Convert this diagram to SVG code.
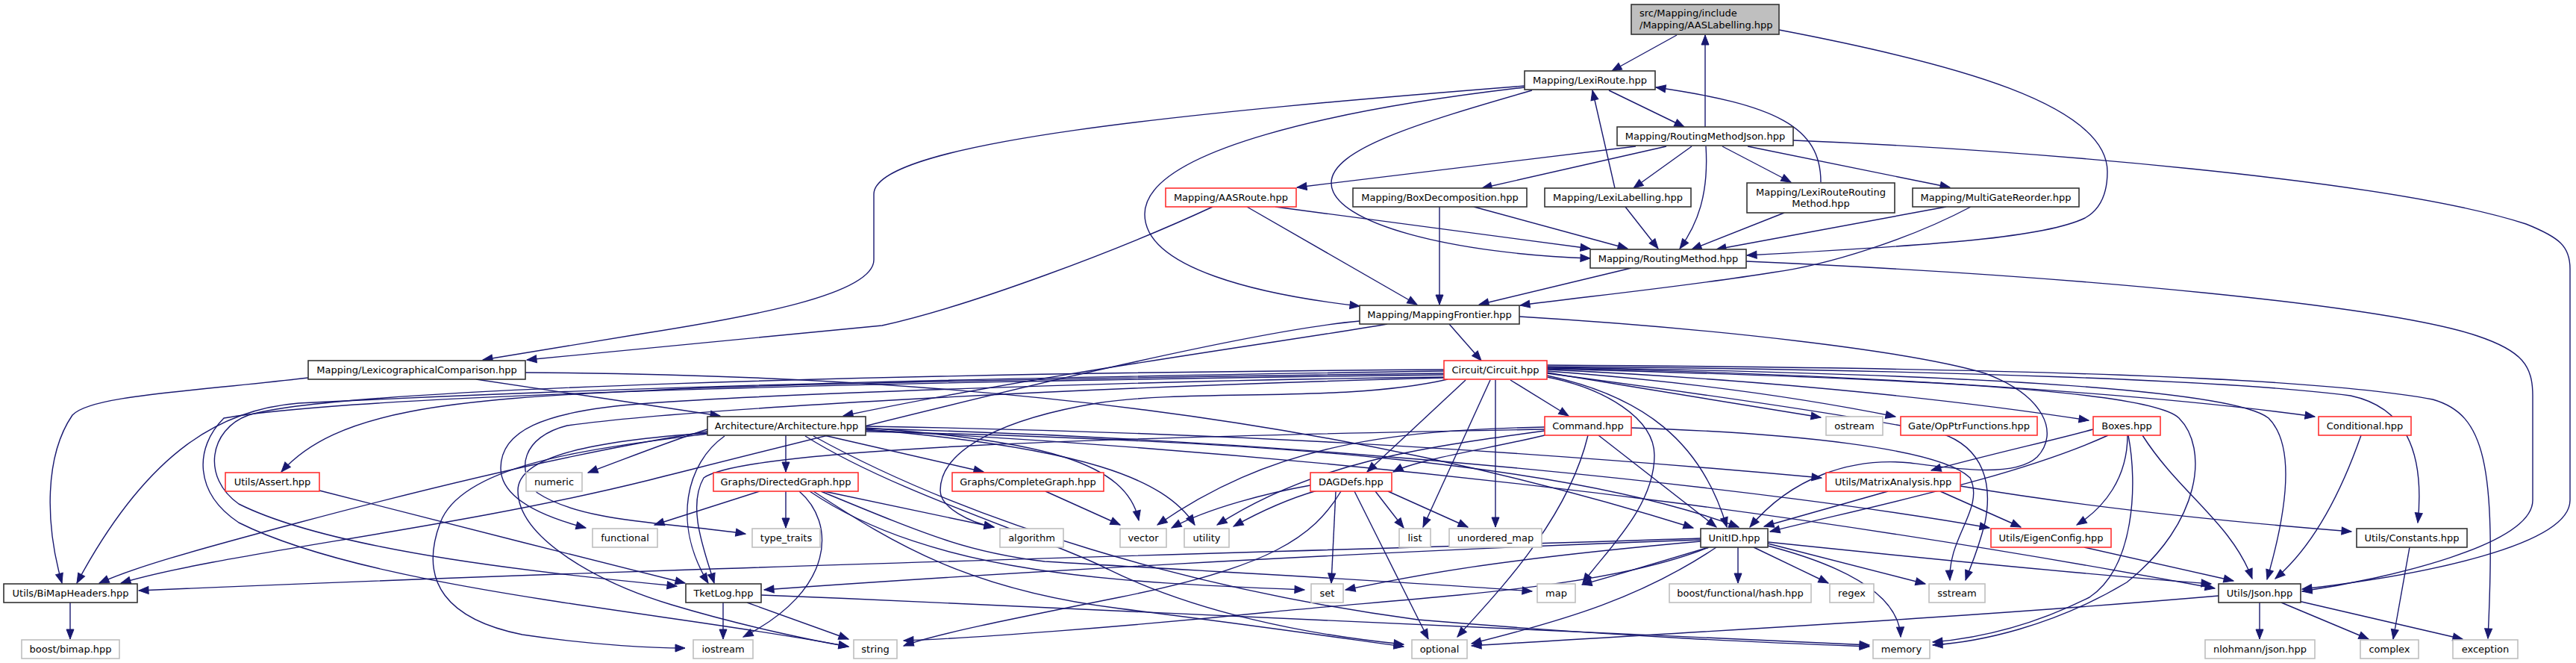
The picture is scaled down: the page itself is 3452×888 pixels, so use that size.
<svg xmlns="http://www.w3.org/2000/svg" width="3452" height="888" viewBox="0 0 3452 888">
<style>
text{font-family:"DejaVu Sans","Liberation Sans",Arial,sans-serif;font-size:13px;fill:#000;text-anchor:middle}
.b rect{fill:#fff;stroke:#333;stroke-width:1.6}
.r rect{fill:#fff;stroke:#ff3030;stroke-width:1.6}
.g rect{fill:#fff;stroke:#bfbfbf;stroke-width:1.6}
#edges path{fill:none;stroke:#191970;stroke-width:1.4;marker-end:url(#a)}
</style>
<defs>
<marker id="a" markerUnits="userSpaceOnUse" markerWidth="15" markerHeight="12" refX="13" refY="5.5" orient="auto" overflow="visible"><path d="M0,0.5 L13,5.5 L0,10.5 Z" fill="#191970" stroke="#191970" stroke-width="1"/></marker>
</defs>
<rect width="3452" height="888" fill="#fff"/>
<g id="edges">
<path d="M2247,47 L2160,95"/>
<path d="M2285,170 L2285,47"/>
<path d="M2384,40 C2620,85 2824,140 2824,230 C2824,262 2812,282 2794,292 C2740,318 2600,328 2341,342"/>
<path d="M2156,121 L2257,170"/>
<path d="M2053,121 C1900,165 1784,200 1784,245 C1784,300 1950,340 2131,346"/>
<path d="M2043,115 C1600,150 1171,190 1171,260 L1171,348 C1171,395 1000,425 860,447 L647,482"/>
<path d="M2043,117 C1800,145 1534,200 1534,287 C1534,360 1690,395 1822,410"/>
<path d="M1625,277 C1500,335 1300,410 1182,436 L706,482"/>
<path d="M1671,277 L1899,408"/>
<path d="M1709,277 L2131,333"/>
<path d="M2192,196 L1738,251"/>
<path d="M2233,196 L1986,252"/>
<path d="M2267,196 L2189,252"/>
<path d="M2286,196 C2290,260 2275,300 2251,333"/>
<path d="M2308,196 L2400,244"/>
<path d="M2342,196 L2613,251"/>
<path d="M2403,188 C2700,200 3200,240 3385,300 C3430,318 3444,330 3444,360 L3444,670 C3444,730 3250,770 3085,789"/>
<path d="M2164,252 L2134,121"/>
<path d="M2178,277 L2222,333"/>
<path d="M2440,244 C2440,170 2380,140 2219,117"/>
<path d="M2391,285 L2267,334"/>
<path d="M2608,277 L2300,334"/>
<path d="M2641,277 C2560,320 2450,355 2375,365 C2250,385 2100,400 2037,409"/>
<path d="M1975,277 L2181,333"/>
<path d="M1929,277 L1929,408"/>
<path d="M2186,359 L1982,408"/>
<path d="M2340,350 C2800,370 3200,410 3320,450 C3380,470 3394,490 3394,530 L3394,670 C3394,730 3200,775 3085,792"/>
<path d="M1942,434 L1985,483"/>
<path d="M1859,434 C1760,452 1400,500 1130,557"/>
<path d="M1822,430 C1650,445 1200,560 870,643 C600,710 300,740 162,781"/>
<path d="M2036,424 C2300,440 2560,470 2660,500 C2740,530 2760,580 2730,612 C2700,640 2620,628 2560,620 C2480,612 2400,640 2345,706"/>
<path d="M638,508 L965,557"/>
<path d="M413,506 C250,525 120,530 97,556 C60,610 60,700 83,781"/>
<path d="M704,499 C1300,502 1800,560 2269,707"/>
<path d="M1964,509 L1832,632"/>
<path d="M1997,509 L1907,706"/>
<path d="M2004,509 L2004,706"/>
<path d="M2024,509 L2102,557"/>
<path d="M2073,505 C2150,520 2217,560 2217,610 C2217,680 2150,740 2121,781"/>
<path d="M2073,503 C2200,530 2280,590 2314,706"/>
<path d="M2073,499 C2200,520 2350,545 2440,559"/>
<path d="M2073,497 C2250,510 2400,530 2540,558"/>
<path d="M2073,495 C2400,510 2650,540 2799,563"/>
<path d="M2073,493 C2500,500 2900,530 3102,558"/>
<path d="M2073,491 C2600,495 3000,510 3150,530 C3220,545 3250,600 3240,700"/>
<path d="M2073,489 C2700,493 3100,505 3260,535 C3330,555 3345,620 3334,855"/>
<path d="M2073,492 C2600,500 2990,520 3040,560 C3080,600 3060,700 3038,776"/>
<path d="M2073,494 C2500,505 2880,520 2920,560 C2960,600 2950,700 2850,780 C2750,840 2650,860 2590,864"/>
<path d="M2073,500 C2300,530 2500,560 2600,580 C2660,600 2670,650 2660,700 C2650,740 2640,760 2634,777"/>
<path d="M1935,500 C1500,505 1000,515 870,523 C600,535 450,550 377,632"/>
<path d="M1935,497 C1400,505 900,515 400,540 C300,548 200,600 103,781"/>
<path d="M1935,495 C1200,500 450,520 333,556 C280,575 270,640 320,675 C450,740 750,770 907,785"/>
<path d="M1935,502 C1300,510 500,525 300,560 C260,600 260,660 320,700 C500,790 900,820 1137,866"/>
<path d="M1935,505 C1500,510 1000,530 870,540 C720,550 671,580 671,627 C671,665 720,690 785,707"/>
<path d="M1935,506 C1400,520 900,550 760,570 C700,585 690,630 720,660 C780,700 900,700 999,715"/>
<path d="M1940,508 C1800,540 1600,520 1470,540 C1350,560 1260,600 1260,657 C1260,680 1300,700 1332,706"/>
<path d="M2070,583 C2000,600 1900,615 1867,632"/>
<path d="M2142,583 L2300,706"/>
<path d="M2128,583 C2100,700 2000,800 1953,853"/>
<path d="M2070,572 C1850,576 1700,600 1551,703"/>
<path d="M2070,577 C1900,600 1760,620 1631,703"/>
<path d="M2070,575 C1500,585 1000,600 943,640 C920,680 945,740 957,781"/>
<path d="M2186,573 C2400,580 2600,600 2640,640 C2660,680 2610,720 2613,777"/>
<path d="M1843,658 L1881,707"/>
<path d="M1860,658 L1967,706"/>
<path d="M1790,658 L1784,781"/>
<path d="M1815,658 L1914,856"/>
<path d="M1797,658 C1760,720 1700,760 1500,800 C1350,830 1250,850 1211,865"/>
<path d="M1756,650 C1700,660 1620,680 1570,707"/>
<path d="M1765,657 C1720,670 1680,690 1653,705"/>
<path d="M1053,583 L1053,632"/>
<path d="M1104,583 L1318,632"/>
<path d="M948,575 C900,590 850,610 788,633"/>
<path d="M971,584 C920,620 900,700 949,781"/>
<path d="M948,578 C870,590 700,620 400,700 C250,740 180,760 133,781"/>
<path d="M948,580 C800,590 694,610 694,657 C694,720 800,780 900,810 C1000,840 1100,860 1137,866"/>
<path d="M948,581 C800,600 620,620 590,700 C560,780 600,830 700,850 C800,865 880,868 918,868"/>
<path d="M1160,573 C1400,590 1510,620 1526,697"/>
<path d="M1160,575 C1450,600 1560,640 1601,703"/>
<path d="M1160,571 C1600,578 2000,600 2441,640"/>
<path d="M1160,574 C1800,590 2400,660 2666,707"/>
<path d="M1160,576 C2000,620 2600,720 2968,788"/>
<path d="M1160,578 C1700,590 2100,620 2330,706"/>
<path d="M1079,584 C1200,660 1400,720 1480,760 C1600,820 1750,850 1881,863"/>
<path d="M1090,584 C1300,700 1600,790 1900,830 C2200,855 2400,862 2505,866"/>
<path d="M1018,658 L877,703"/>
<path d="M1053,658 L1053,707"/>
<path d="M1071,658 C1120,700 1120,790 996,853"/>
<path d="M1104,658 L1332,706"/>
<path d="M1100,658 C1250,720 1300,740 1400,752 C1700,770 1900,780 2053,792"/>
<path d="M1090,658 C1200,730 1300,790 1500,815 C1700,840 1800,855 1881,866"/>
<path d="M1085,658 C1250,770 1500,780 1748,790"/>
<path d="M1401,658 L1501,703"/>
<path d="M969,807 L969,856"/>
<path d="M1001,807 L1137,856"/>
<path d="M1020,797 C1600,820 2200,850 2505,864"/>
<path d="M428,657 C600,700 750,740 918,781"/>
<path d="M94,807 L94,856"/>
<path d="M2279,721 C1700,740 900,760 186,791"/>
<path d="M2279,723 C1800,740 1300,770 1024,790"/>
<path d="M2279,725 C2000,750 1900,770 1803,790"/>
<path d="M2290,733 C2200,760 2150,775 2120,783"/>
<path d="M2329,733 L2329,781"/>
<path d="M2350,733 L2450,781"/>
<path d="M2369,728 L2580,782"/>
<path d="M2369,731 C2480,760 2545,800 2547,853"/>
<path d="M2300,733 C2200,800 2100,830 1972,862"/>
<path d="M2290,733 C2150,790 1900,800 1700,820 C1500,840 1300,855 1211,858"/>
<path d="M2369,726 C2600,750 2800,770 2963,782"/>
<path d="M2530,658 L2364,705"/>
<path d="M2600,658 L2708,706"/>
<path d="M2627,651 C2800,680 3000,700 3151,712"/>
<path d="M2805,575 C2750,590 2660,610 2588,630"/>
<path d="M2825,583 C2700,640 2500,680 2372,712"/>
<path d="M2851,583 C2851,640 2820,680 2783,703"/>
<path d="M2871,583 C2920,660 2990,700 3018,775"/>
<path d="M2852,583 C2865,650 2860,760 2800,800 C2720,840 2650,855 2590,860"/>
<path d="M3164,583 C3130,680 3090,740 3049,775"/>
<path d="M2793,733 L2993,778"/>
<path d="M2973,798 C2600,830 2200,850 1972,865"/>
<path d="M3028,807 L3028,856"/>
<path d="M3057,807 L3174,856"/>
<path d="M3080,805 L3300,856"/>
<path d="M3229,733 L3207,856"/>
</g>
<g id="root"><rect x="2186" y="6" width="198" height="40" fill="#bfbfbf" stroke="#333" stroke-width="1.6"/><text x="2197" y="22" style="text-anchor:start">src/Mapping/include</text><text x="2197" y="38" style="text-anchor:start">/Mapping/AASLabelling.hpp</text></g>
<g id="n_lexiroute" class="b"><rect x="2043" y="95" width="175" height="25"/><text x="2130.5" y="112">Mapping/LexiRoute.hpp</text></g>
<g id="n_rmjson" class="b"><rect x="2167" y="170" width="236" height="25"/><text x="2285" y="187">Mapping/RoutingMethodJson.hpp</text></g>
<g id="n_aasroute" class="r"><rect x="1562" y="252" width="175" height="25"/><text x="1649.5" y="269">Mapping/AASRoute.hpp</text></g>
<g id="n_boxdecomp" class="b"><rect x="1813" y="252" width="233" height="25"/><text x="1929.5" y="269">Mapping/BoxDecomposition.hpp</text></g>
<g id="n_lexilabel" class="b"><rect x="2070" y="252" width="196" height="25"/><text x="2168" y="269">Mapping/LexiLabelling.hpp</text></g>
<g id="n_lrrm" class="b"><rect x="2341" y="245" width="198" height="40"/><text x="2440" y="262">Mapping/LexiRouteRouting</text><text x="2440" y="277">Method.hpp</text></g>
<g id="n_multigate" class="b"><rect x="2563" y="252" width="223" height="25"/><text x="2674.5" y="269">Mapping/MultiGateReorder.hpp</text></g>
<g id="n_rm" class="b"><rect x="2131" y="334" width="209" height="25"/><text x="2235.5" y="351">Mapping/RoutingMethod.hpp</text></g>
<g id="n_mf" class="b"><rect x="1822" y="409" width="214" height="25"/><text x="1929" y="426">Mapping/MappingFrontier.hpp</text></g>
<g id="n_lexcomp" class="b"><rect x="413" y="483" width="291" height="25"/><text x="558.5" y="500">Mapping/LexicographicalComparison.hpp</text></g>
<g id="n_circuit" class="r"><rect x="1935" y="483" width="138" height="25"/><text x="2004" y="500">Circuit/Circuit.hpp</text></g>
<g id="n_arch" class="b"><rect x="948" y="558" width="212" height="25"/><text x="1054" y="575">Architecture/Architecture.hpp</text></g>
<g id="n_command" class="r"><rect x="2070" y="558" width="116" height="25"/><text x="2128" y="575">Command.hpp</text></g>
<g id="n_ostream" class="g"><rect x="2447" y="558" width="76" height="25"/><text x="2485" y="575">ostream</text></g>
<g id="n_gateop" class="r"><rect x="2547" y="558" width="183" height="25"/><text x="2638.5" y="575">Gate/OpPtrFunctions.hpp</text></g>
<g id="n_boxes" class="r"><rect x="2805" y="558" width="90" height="25"/><text x="2850" y="575">Boxes.hpp</text></g>
<g id="n_conditional" class="r"><rect x="3107" y="558" width="124" height="25"/><text x="3169" y="575">Conditional.hpp</text></g>
<g id="n_assert" class="r"><rect x="302" y="633" width="126" height="25"/><text x="365" y="650">Utils/Assert.hpp</text></g>
<g id="n_numeric" class="g"><rect x="705" y="633" width="75" height="25"/><text x="742.5" y="650">numeric</text></g>
<g id="n_dgraph" class="r"><rect x="956" y="633" width="194" height="25"/><text x="1053" y="650">Graphs/DirectedGraph.hpp</text></g>
<g id="n_cgraph" class="r"><rect x="1276" y="633" width="203" height="25"/><text x="1377.5" y="650">Graphs/CompleteGraph.hpp</text></g>
<g id="n_dagdefs" class="r"><rect x="1756" y="633" width="109" height="25"/><text x="1810.5" y="650">DAGDefs.hpp</text></g>
<g id="n_matrix" class="r"><rect x="2447" y="633" width="180" height="25"/><text x="2537" y="650">Utils/MatrixAnalysis.hpp</text></g>
<g id="n_functional" class="g"><rect x="794" y="708" width="87" height="25"/><text x="837.5" y="725">functional</text></g>
<g id="n_typetraits" class="g"><rect x="1008" y="708" width="91" height="25"/><text x="1053.5" y="725">type_traits</text></g>
<g id="n_algorithm" class="g"><rect x="1340" y="708" width="85" height="25"/><text x="1382.5" y="725">algorithm</text></g>
<g id="n_vector" class="g"><rect x="1501" y="708" width="62" height="25"/><text x="1532" y="725">vector</text></g>
<g id="n_utility" class="g"><rect x="1587" y="708" width="60" height="25"/><text x="1617" y="725">utility</text></g>
<g id="n_list" class="g"><rect x="1875" y="708" width="42" height="25"/><text x="1896" y="725">list</text></g>
<g id="n_umap" class="g"><rect x="1942" y="708" width="124" height="25"/><text x="2004" y="725">unordered_map</text></g>
<g id="n_unitid" class="b"><rect x="2279" y="708" width="90" height="25"/><text x="2324" y="725">UnitID.hpp</text></g>
<g id="n_eigen" class="r"><rect x="2668" y="708" width="161" height="25"/><text x="2748.5" y="725">Utils/EigenConfig.hpp</text></g>
<g id="n_constants" class="b"><rect x="3158" y="708" width="148" height="25"/><text x="3232" y="725">Utils/Constants.hpp</text></g>
<g id="n_bimaph" class="b"><rect x="5" y="782" width="179" height="25"/><text x="94.5" y="799">Utils/BiMapHeaders.hpp</text></g>
<g id="n_tketlog" class="b"><rect x="919" y="782" width="101" height="25"/><text x="969.5" y="799">TketLog.hpp</text></g>
<g id="n_set" class="g"><rect x="1757" y="782" width="43" height="25"/><text x="1778.5" y="799">set</text></g>
<g id="n_map" class="g"><rect x="2060" y="782" width="51" height="25"/><text x="2085.5" y="799">map</text></g>
<g id="n_hash" class="g"><rect x="2237" y="782" width="190" height="25"/><text x="2332" y="799">boost/functional/hash.hpp</text></g>
<g id="n_regex" class="g"><rect x="2452" y="782" width="59" height="25"/><text x="2481.5" y="799">regex</text></g>
<g id="n_sstream" class="g"><rect x="2585" y="782" width="75" height="25"/><text x="2622.5" y="799">sstream</text></g>
<g id="n_json" class="b"><rect x="2973" y="782" width="110" height="25"/><text x="3028" y="799">Utils/Json.hpp</text></g>
<g id="n_bimap" class="g"><rect x="29" y="857" width="131" height="25"/><text x="94.5" y="874">boost/bimap.hpp</text></g>
<g id="n_iostream" class="g"><rect x="929" y="857" width="80" height="25"/><text x="969" y="874">iostream</text></g>
<g id="n_string" class="g"><rect x="1144" y="857" width="58" height="25"/><text x="1173" y="874">string</text></g>
<g id="n_optional" class="g"><rect x="1892" y="857" width="74" height="25"/><text x="1929" y="874">optional</text></g>
<g id="n_memory" class="g"><rect x="2510" y="857" width="76" height="25"/><text x="2548" y="874">memory</text></g>
<g id="n_nlohmann" class="g"><rect x="2955" y="857" width="147" height="25"/><text x="3028.5" y="874">nlohmann/json.hpp</text></g>
<g id="n_complex" class="g"><rect x="3163" y="857" width="78" height="25"/><text x="3202" y="874">complex</text></g>
<g id="n_exception" class="g"><rect x="3287" y="857" width="87" height="25"/><text x="3330.5" y="874">exception</text></g>
</svg>
